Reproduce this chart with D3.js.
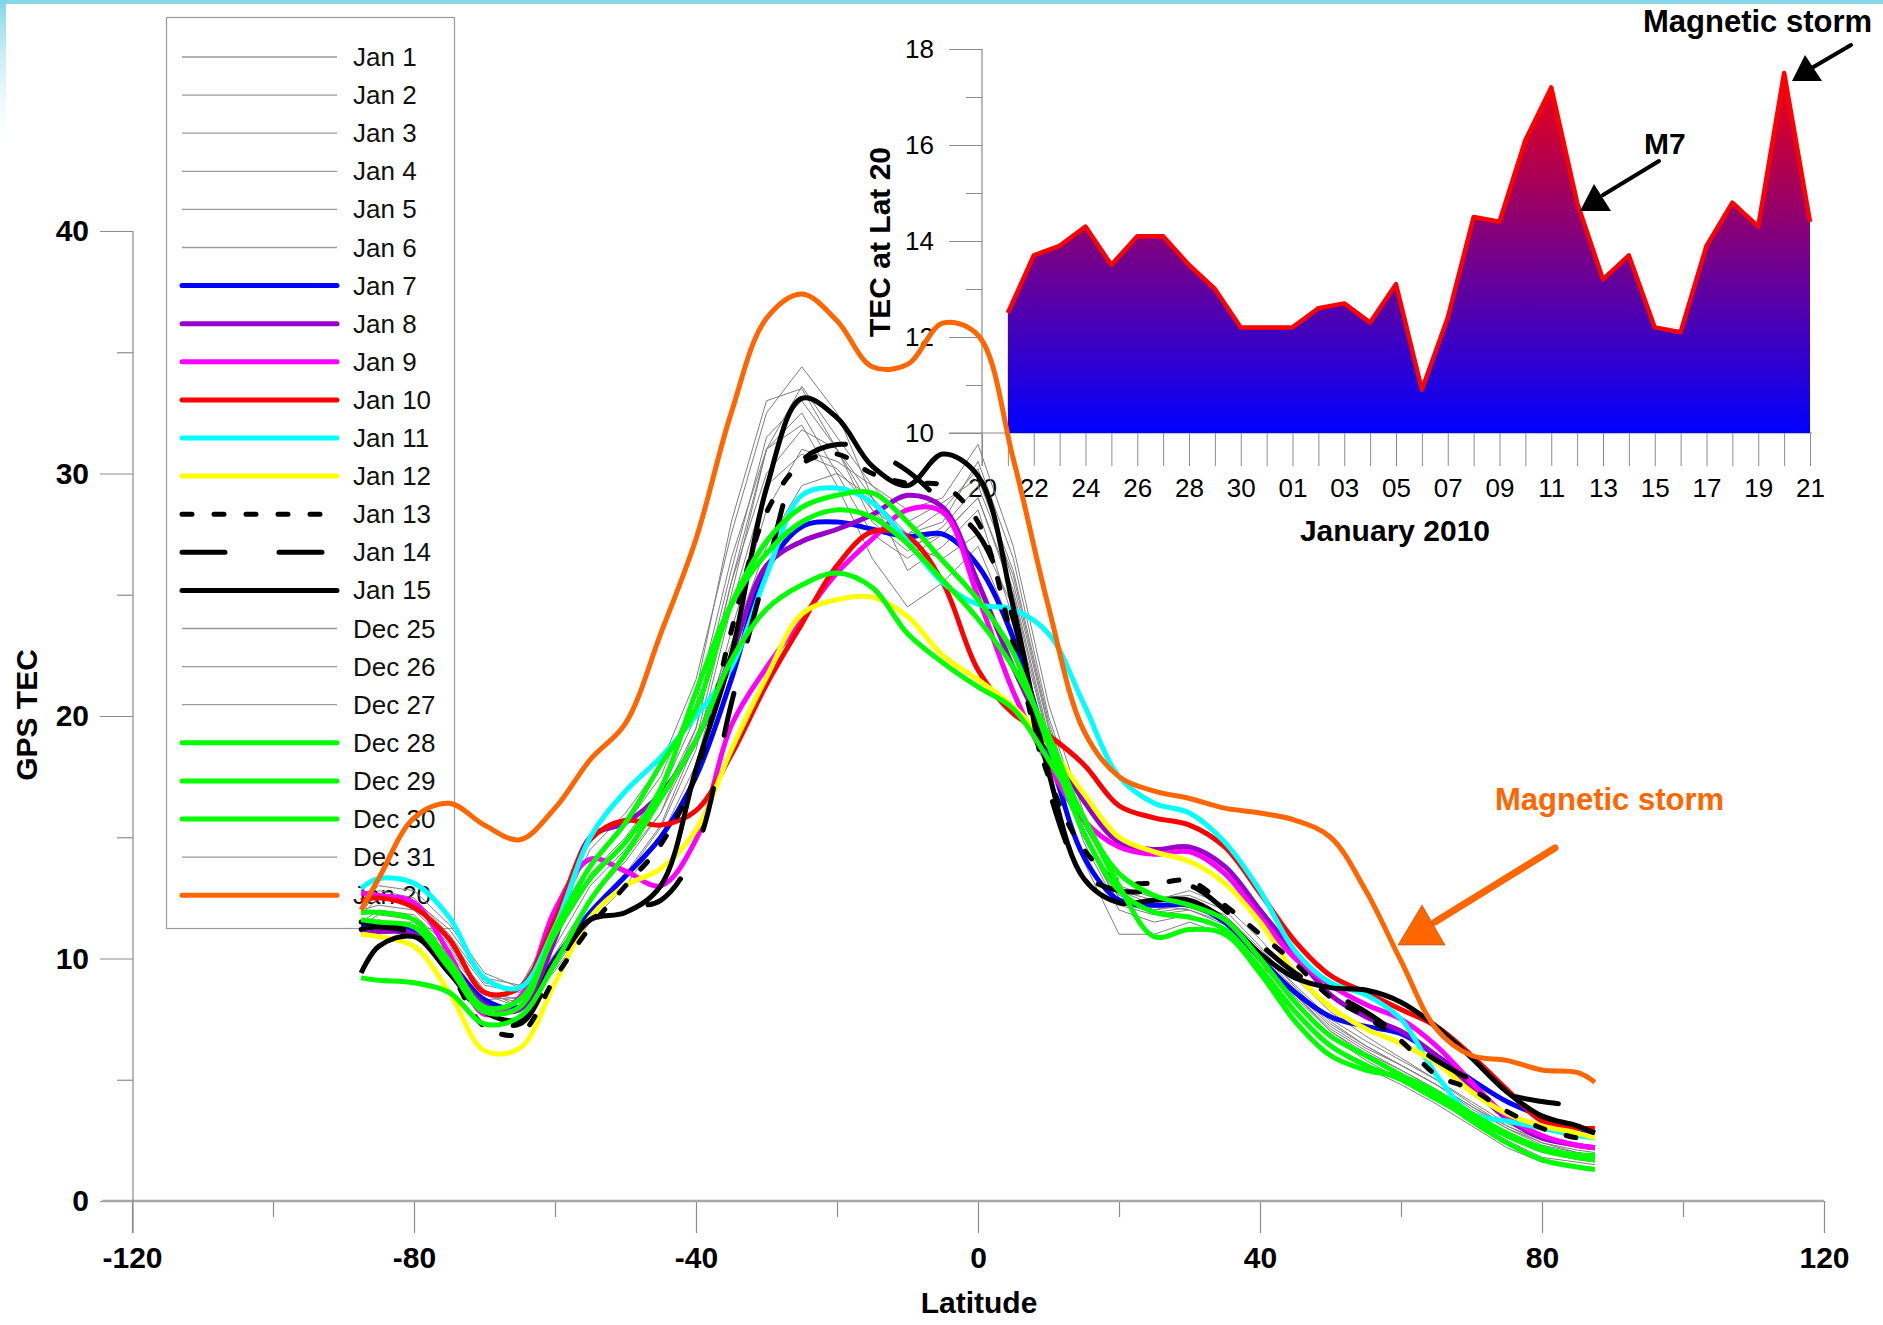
<!DOCTYPE html>
<html>
<head>
<meta charset="utf-8">
<script src="https://cdn.jsdelivr.net/npm/d3@7"></script>
<style>
  body { margin: 0; background: #fff; }
  svg { display: block; font-family: "Liberation Sans", Arial, sans-serif; }
</style>
</head>
<body>
<svg id="chart" width="1883" height="1325"></svg>
<script>
// latitudes the TEC profiles are sampled at
const latitudes = [-87.5, -85, -80, -75, -70, -65, -60, -55, -50, -45, -40, -35, -30, -25, -20, -15, -10, -5,
  0, 5, 10, 15, 20, 25, 30, 35, 40, 45, 50, 55, 60, 65, 70, 75, 80, 85, 87.5];

// GPS TEC profiles, one per day
const jan01 = [12.4,13.0,12.8,11.4,9.4,8.8,11.5,14.5,16.0,18.0,21.5,27.5,32.5,34.4,32.5,29.0,26.0,27.0,28.5,24.0,18.5,15.0,12.5,12.0,12.2,11.5,10.0,8.5,7.0,6.0,5.2,4.3,3.4,2.6,2.0,1.7,1.6];
const jan02 = [11.8,12.5,12.2,10.8,8.9,8.6,10.8,13.8,15.5,17.5,21.0,28.0,33.0,33.5,31.0,28.5,27.5,28.5,30.2,25.5,19.5,15.5,13.0,12.5,12.6,12.0,10.5,8.8,7.4,6.4,5.6,4.8,3.8,3.0,2.4,2.1,2.0];
const jan03 = [11.2,11.5,11.5,10.2,8.5,8.2,10.5,13.0,14.5,16.5,19.5,25.5,31.0,33.6,31.5,29.5,28.5,29.0,31.2,27.0,20.5,16.0,12.8,12.2,12.0,11.5,10.2,8.6,7.2,6.3,5.6,4.8,3.9,3.1,2.5,2.2,2.1];
const jan04 = [11.5,12.0,11.8,10.5,8.7,8.0,9.8,12.0,13.5,15.5,19.0,25.0,31.0,32.5,30.0,27.5,26.5,27.5,29.0,25.0,19.0,14.8,12.0,11.5,11.8,11.2,9.8,8.2,6.8,5.8,5.0,4.2,3.3,2.5,1.8,1.6,1.5];
const jan05 = [11.0,11.2,11.0,9.8,8.0,7.8,9.5,11.5,13.0,15.0,18.0,23.5,28.5,31.0,30.5,29.5,28.0,28.8,29.8,26.0,19.8,15.2,12.5,12.0,12.4,11.8,10.4,8.9,7.5,6.6,5.8,5.0,4.1,3.2,2.6,2.3,2.2];
const jan06 = [11.3,11.6,11.2,9.9,8.3,8.4,10.2,12.5,14.2,16.0,19.0,23.0,27.0,29.5,30.0,29.0,27.0,26.5,27.5,24.5,19.0,15.0,12.2,11.8,12.0,11.4,10.0,8.4,7.0,6.1,5.4,4.6,3.6,2.8,2.2,1.9,1.8];
const jan07 = [11.4,11.4,11.2,9.9,8.3,8.0,10.0,11.9,13.4,15.0,17.5,21.5,26.0,27.8,28.0,27.7,27.4,27.5,26.2,23.2,18.6,14.2,12.4,12.2,12.2,11.5,10.0,8.6,7.6,7.2,6.9,6.0,5.0,4.1,3.5,3.0,2.8];
const jan08 = [11.0,11.1,11.0,9.8,8.1,7.9,10.8,15.0,15.6,16.8,19.0,22.5,26.2,27.2,27.7,28.3,29.1,28.6,25.5,22.0,19.0,16.5,14.8,14.5,14.6,13.8,12.0,10.2,8.5,7.6,7.0,6.0,4.7,3.4,2.6,2.3,2.2];
const jan09 = [12.7,12.6,12.3,10.2,7.7,8.4,12.0,14.1,13.6,13.0,14.9,19.6,22.0,24.0,25.9,27.3,28.5,28.4,24.9,21.0,18.0,15.7,14.6,14.3,14.4,13.5,11.7,10.0,8.9,8.1,7.5,6.4,4.9,3.5,2.7,2.3,2.2];
const jan10 = [12.4,12.5,12.1,10.8,8.6,8.8,11.6,14.9,15.7,15.5,16.1,18.4,21.3,23.8,26.2,27.6,27.4,25.5,21.9,20.1,19.2,18.0,16.3,15.8,15.5,14.6,12.7,10.7,9.3,8.6,7.9,7.2,6.0,4.6,3.3,3.0,3.0];
const jan11 = [12.9,13.3,13.1,11.7,9.2,8.8,11.3,15.0,16.9,18.3,20.0,22.0,25.8,29.1,29.4,28.8,27.2,25.5,24.6,24.4,23.4,20.5,17.5,16.4,16.0,14.8,12.8,10.3,9.0,8.5,7.5,5.2,3.6,3.3,3.0,2.7,2.6];
const jan12 = [11.0,10.9,10.5,8.6,6.2,6.3,9.0,11.7,13.0,13.7,15.3,18.6,21.6,24.2,24.8,24.9,24.1,22.5,21.5,20.4,18.8,16.8,15.0,14.4,14.0,13.1,11.5,9.4,8.0,7.1,6.5,5.7,4.5,3.6,3.1,2.8,2.6];
const jan13 = [11.5,11.4,11.1,9.5,7.2,6.9,9.2,11.3,13.0,14.7,17.6,23.5,28.4,30.4,30.8,30.0,29.6,29.5,28.0,23.0,17.5,14.5,13.2,13.1,13.2,12.2,11.0,9.8,8.4,7.6,6.6,5.2,4.6,3.7,3.0,2.6,2.5];
const jan14 = [11.2,11.3,11.0,9.6,7.6,7.3,9.6,11.6,12.1,12.4,14.5,20.5,26.0,30.5,31.2,30.9,30.1,28.8,27.5,24.0,17.0,13.5,12.8,12.8,13.0,12.0,10.6,9.4,8.6,7.8,6.8,5.8,5.0,4.4,4.1,3.9,3.7];
const jan15 = [9.4,10.5,10.9,9.4,7.8,7.5,9.9,11.6,11.9,13.0,17.8,22.5,29.4,33.1,32.3,30.3,29.5,30.8,29.9,24.5,17.7,13.3,12.3,12.4,12.4,11.6,10.2,9.2,8.8,8.7,8.2,7.2,5.9,4.5,3.5,3.1,2.8];
const dec25 = [11.9,12.8,12.5,11.0,9.0,8.7,10.8,13.5,15.0,17.0,20.5,26.5,31.0,32.0,29.5,26.5,24.5,25.5,27.0,23.5,18.0,14.0,11.0,11.0,11.5,11.0,9.5,7.8,6.4,5.5,4.8,4.0,3.1,2.2,1.6,1.4,1.3];
const dec26 = [12.0,12.2,12.0,10.6,8.6,8.3,10.0,12.5,14.0,16.0,19.5,25.5,30.0,31.8,31.0,29.0,27.5,28.0,30.5,26.5,20.0,15.6,12.8,12.4,12.8,12.2,10.8,9.2,7.8,6.8,5.9,5.0,4.0,3.1,2.4,2.0,1.9];
const dec27 = [11.4,11.8,11.6,10.4,8.5,8.0,9.6,11.8,13.4,15.4,18.6,24.5,29.5,30.8,30.2,28.5,27.0,27.5,29.0,25.2,19.2,15.0,12.3,11.9,12.1,11.6,10.1,8.5,7.1,6.2,5.4,4.6,3.7,2.8,2.1,1.8,1.7];
const dec28 = [9.2,9.1,9.0,8.6,7.3,7.6,9.8,12.4,14.3,16.6,19.0,22.3,24.4,25.4,25.9,25.3,23.4,22.2,21.2,20.3,18.2,15.8,13.0,10.9,11.2,11.0,9.4,7.4,6.0,5.4,5.1,4.3,3.3,2.4,1.7,1.4,1.3];
const dec29 = [11.9,11.9,11.6,9.9,8.0,8.3,11.0,13.3,14.8,17.0,21.0,24.6,26.7,28.0,28.5,28.2,27.1,25.6,24.0,22.0,19.2,15.8,13.5,12.6,12.2,11.6,10.0,8.2,6.8,6.0,5.2,4.5,3.6,2.8,2.2,1.9,1.9];
const dec30 = [11.6,11.5,11.3,9.6,7.8,8.0,11.2,13.8,15.6,18.0,20.3,24.6,27.2,28.6,29.1,29.2,28.0,26.4,24.8,22.6,18.8,15.2,12.8,11.9,11.7,11.2,9.6,7.8,6.4,5.6,5.0,4.2,3.4,2.7,2.1,1.8,1.7];
const dec31 = [12.2,12.6,12.4,11.2,9.2,8.9,10.9,13.2,14.8,16.8,20.0,26.0,31.5,33.0,31.0,28.0,26.8,27.8,29.5,25.8,19.6,15.3,12.6,12.1,12.3,11.7,10.3,8.7,7.3,6.4,5.6,4.8,3.9,3.0,2.3,2.0,1.9];
const jan20 = [12.0,13.3,15.8,16.4,15.5,14.9,16.2,18.2,19.7,23.4,27.3,32.5,36.4,37.4,36.3,34.4,34.5,36.2,35.7,30.6,24.5,19.4,17.5,16.9,16.6,16.2,16.0,15.7,15.0,12.8,9.9,7.1,6.0,5.8,5.4,5.3,4.9];

// inset: TEC at latitude 20 per day
const tecDates = ["2009-12-21","2009-12-22","2009-12-23","2009-12-24","2009-12-25","2009-12-26","2009-12-27","2009-12-28",
  "2009-12-29","2009-12-30","2009-12-31","2010-01-01","2010-01-02","2010-01-03","2010-01-04","2010-01-05","2010-01-06",
  "2010-01-07","2010-01-08","2010-01-09","2010-01-10","2010-01-11","2010-01-12","2010-01-13","2010-01-14","2010-01-15",
  "2010-01-16","2010-01-17","2010-01-18","2010-01-19","2010-01-20","2010-01-21"];
const tecValues = [12.5,13.7,13.9,14.3,13.5,14.1,14.1,13.5,13.0,12.2,12.2,12.2,12.6,12.7,12.3,13.1,10.9,
  12.4,14.5,14.4,16.1,17.2,14.8,13.2,13.7,12.2,12.1,13.9,14.8,14.3,17.5,14.4];

const xTicksMain = [-120, -80, -40, 0, 40, 80, 120];
const yTicksMain = [0, 10, 20, 30, 40];
const yTicksInset = [10, 12, 14, 16, 18];

const gray = "#7f7f7f";
const series = [
  { name: "Jan 1", values: jan01, color: gray, width: 1 },
  { name: "Jan 2", values: jan02, color: gray, width: 1 },
  { name: "Jan 3", values: jan03, color: gray, width: 1 },
  { name: "Jan 4", values: jan04, color: gray, width: 1 },
  { name: "Jan 5", values: jan05, color: gray, width: 1 },
  { name: "Jan 6", values: jan06, color: gray, width: 1 },
  { name: "Jan 7", values: jan07, color: "#0000ff", width: 5 },
  { name: "Jan 8", values: jan08, color: "#9900cc", width: 5 },
  { name: "Jan 9", values: jan09, color: "#ff00ff", width: 5 },
  { name: "Jan 10", values: jan10, color: "#ff0000", width: 5 },
  { name: "Jan 11", values: jan11, color: "#00ffff", width: 5 },
  { name: "Jan 12", values: jan12, color: "#ffff00", width: 5 },
  { name: "Jan 13", values: jan13, color: "#000000", width: 5, dash: "10,22" },
  { name: "Jan 14", values: jan14, color: "#000000", width: 5, dash: "43,54" },
  { name: "Jan 15", values: jan15, color: "#000000", width: 5 },
  { name: "Dec 25", values: dec25, color: gray, width: 1 },
  { name: "Dec 26", values: dec26, color: gray, width: 1 },
  { name: "Dec 27", values: dec27, color: gray, width: 1 },
  { name: "Dec 28", values: dec28, color: "#00ff00", width: 5 },
  { name: "Dec 29", values: dec29, color: "#00ff00", width: 5 },
  { name: "Dec 30", values: dec30, color: "#00ff00", width: 5 },
  { name: "Dec 31", values: dec31, color: gray, width: 1 },
  { name: "Jan 20", values: jan20, color: "#ff6600", width: 5 }
];

const svg = d3.select("#chart");
const axisColor = "#8c8c8c";
const defs = svg.append("defs");

// slide decoration
const deco = defs.append("linearGradient").attr("id", "decoGrad")
  .attr("x1", 0).attr("y1", 0).attr("x2", 0).attr("y2", 1);
deco.append("stop").attr("offset", 0).attr("stop-color", "#7fd6e8");
deco.append("stop").attr("offset", 1).attr("stop-color", "#ffffff").attr("stop-opacity", 0);
svg.append("rect").attr("x", 0).attr("y", 0).attr("width", 1883).attr("height", 4).attr("fill", "#86d8e8");
svg.append("rect").attr("x", 0).attr("y", 0).attr("width", 6).attr("height", 160).attr("fill", "url(#decoGrad)");

// ---------- main chart scales
const x = d3.scaleLinear().domain([-120, 120]).range([132, 1824]);
const y = d3.scaleLinear().domain([0, 40]).range([1201, 231]);

// legend (drawn first, the profiles go over it)
const legend = svg.append("g");
legend.append("rect")
  .attr("x", 166.5).attr("y", 17.5).attr("width", 288).attr("height", 911)
  .attr("fill", "#fff").attr("stroke", "#9a9a9a").attr("stroke-width", 1.2);
const rowH = 38.1;
series.forEach(function (s, i) {
  const yy = 57 + i * rowH;
  const thick = s.width > 2;
  legend.append("line")
    .attr("x1", 182).attr("x2", 337)
    .attr("y1", yy).attr("y2", yy)
    .attr("stroke", thick ? s.color : "#9a9a9a")
    .attr("stroke-width", thick ? 5 : 1.3)
    .attr("stroke-linecap", thick ? "round" : "butt")
    .attr("stroke-dasharray", s.dash || null);
  legend.append("text")
    .attr("x", 353).attr("y", yy + 9)
    .attr("font-size", 26).attr("fill", "#111")
    .text(s.name);
});

// main axes
const plainNum = function (d) { return String(d); };
const gx = svg.append("g").attr("transform", "translate(0,1201)");
gx.call(d3.axisBottom(x).tickValues(xTicksMain).tickSize(32).tickFormat(plainNum));
const gxMinor = svg.append("g").attr("transform", "translate(0,1201)");
gxMinor.call(d3.axisBottom(x).tickValues([-100, -60, -20, 20, 60, 100]).tickSize(16).tickFormat(""));
const gy = svg.append("g").attr("transform", "translate(133,0)");
gy.call(d3.axisLeft(y).tickValues(yTicksMain).tickSize(33).tickFormat(plainNum));
const gyMinor = svg.append("g").attr("transform", "translate(133,0)");
gyMinor.call(d3.axisLeft(y).tickValues([5, 15, 25, 35]).tickSize(16).tickFormat(""));

[gx, gxMinor, gy, gyMinor].forEach(function (g) {
  g.select(".domain").remove();
  g.selectAll(".tick line").attr("stroke", axisColor).attr("stroke-width", 1.2);
});
gx.selectAll(".tick text").attr("font-size", 30).attr("font-weight", "bold")
  .attr("fill", "#000").attr("font-family", "Liberation Sans, Arial").attr("y", 46);
gy.selectAll(".tick text").attr("font-size", 30).attr("font-weight", "bold")
  .attr("fill", "#000").attr("font-family", "Liberation Sans, Arial").attr("x", -44);

svg.append("line").attr("x1", 102).attr("x2", 1824).attr("y1", 1201).attr("y2", 1201)
  .attr("stroke", "#a8a8a8").attr("stroke-width", 2.5);
svg.append("line").attr("x1", 133).attr("x2", 133).attr("y1", 231).attr("y2", 1233)
  .attr("stroke", axisColor).attr("stroke-width", 1.2);

svg.append("text").attr("x", 979).attr("y", 1313).attr("text-anchor", "middle")
  .attr("font-size", 30).attr("font-weight", "bold").text("Latitude");
svg.append("text").attr("transform", "translate(37,715) rotate(-90)").attr("text-anchor", "middle")
  .attr("font-size", 30).attr("font-weight", "bold").text("GPS TEC");

// ---------- inset
const xIn = d3.scaleTime().domain([new Date(2009, 11, 20), new Date(2010, 0, 21)]).range([982, 1810]);
const yIn = d3.scaleLinear().domain([10, 18]).range([433, 49]);
const parseDay = d3.timeParse("%Y-%m-%d");
const tecData = tecDates.map(function (d, i) { return { date: parseDay(d), value: tecValues[i] }; });

const grad = defs.append("linearGradient").attr("id", "tecGrad")
  .attr("gradientUnits", "userSpaceOnUse")
  .attr("x1", 0).attr("y1", yIn(18)).attr("x2", 0).attr("y2", yIn(10));
grad.append("stop").attr("offset", 0).attr("stop-color", "#ff0000");
grad.append("stop").attr("offset", 1).attr("stop-color", "#0000ff");

const inset = svg.append("g");
const days = d3.timeDay.range(new Date(2009, 11, 20), new Date(2010, 0, 22));
const gxIn = inset.append("g").attr("transform", "translate(0,433)");
gxIn.call(d3.axisBottom(xIn).tickValues(days).tickSize(33)
  .tickFormat(function (d, i) { return i % 2 === 0 ? d3.timeFormat("%d")(d) : ""; }));
const gyIn = inset.append("g").attr("transform", "translate(982,0)");
gyIn.call(d3.axisLeft(yIn).tickValues(yTicksInset).tickSize(33).tickFormat(plainNum));
const gyInMinor = inset.append("g").attr("transform", "translate(982,0)");
gyInMinor.call(d3.axisLeft(yIn).tickValues([11, 13, 15, 17]).tickSize(16).tickFormat(""));
[gxIn, gyIn, gyInMinor].forEach(function (g) {
  g.select(".domain").remove();
  g.selectAll(".tick line").attr("stroke", axisColor).attr("stroke-width", 1);
  g.selectAll(".tick text").attr("font-size", 26).attr("fill", "#000")
    .attr("font-family", "Liberation Sans, Arial");
});
gxIn.selectAll(".tick text").attr("y", 46);
gyIn.selectAll(".tick text").attr("x", -48);
inset.append("line").attr("x1", 949).attr("x2", 1812).attr("y1", 433).attr("y2", 433)
  .attr("stroke", axisColor).attr("stroke-width", 1.2);
inset.append("line").attr("x1", 982).attr("x2", 982).attr("y1", 49).attr("y2", 466)
  .attr("stroke", axisColor).attr("stroke-width", 1.2);

inset.append("path").datum(tecData)
  .attr("fill", "url(#tecGrad)")
  .attr("d", d3.area().x(function (d) { return xIn(d.date); }).y0(yIn(10)).y1(function (d) { return yIn(d.value); }));
inset.append("path").datum(tecData)
  .attr("fill", "none").attr("stroke", "#ff0000").attr("stroke-width", 4.5).attr("stroke-linejoin", "round")
  .attr("d", d3.line().x(function (d) { return xIn(d.date); }).y(function (d) { return yIn(d.value); }));

inset.append("text").attr("transform", "translate(890,242) rotate(-90)").attr("text-anchor", "middle")
  .attr("font-size", 30).attr("font-weight", "bold").text("TEC at Lat 20");
inset.append("text").attr("x", 1395).attr("y", 541).attr("text-anchor", "middle")
  .attr("font-size", 30).attr("font-weight", "bold").text("January 2010");

// ---------- profiles
const marks = svg.append("g");
const lineSmooth = d3.line()
  .x(function (d) { return x(d[0]); })
  .y(function (d) { return y(d[1]); })
  .curve(d3.curveCatmullRom.alpha(0.5));
const lineRough = d3.line()
  .x(function (d) { return x(d[0]); })
  .y(function (d) { return y(d[1]); });

const drawOrder = series.filter(function (s) { return s.width < 2; })
  .concat(series.filter(function (s) { return s.width >= 2 && s.name !== "Jan 20"; }))
  .concat(series.filter(function (s) { return s.name === "Jan 20"; }));

marks.selectAll("path").data(drawOrder).enter().append("path")
  .attr("fill", "none")
  .attr("stroke", function (d) { return d.color; })
  .attr("stroke-width", function (d) { return d.width; })
  .attr("stroke-linecap", function (d) { return d.dash ? "round" : "butt"; })
  .attr("stroke-linejoin", "round")
  .attr("stroke-dasharray", function (d) { return d.dash || null; })
  .attr("d", function (d) {
    const pts = latitudes.map(function (lat, i) { return [lat, d.values[i]]; });
    return d.width < 2 ? lineRough(pts) : lineSmooth(pts);
  });

// ---------- annotations
const notes = svg.append("g");
notes.append("text").attr("x", 1643).attr("y", 32).attr("font-size", 31).attr("font-weight", "bold")
  .text("Magnetic storm");
notes.append("line").attr("x1", 1851).attr("y1", 45).attr("x2", 1810).attr("y2", 69)
  .attr("stroke", "#000").attr("stroke-width", 4).attr("stroke-linecap", "round");
notes.append("polygon").attr("points", "1792,81 1822,81 1805,55").attr("fill", "#000");

notes.append("text").attr("x", 1644).attr("y", 154).attr("font-size", 30).attr("font-weight", "bold")
  .text("M7");
notes.append("line").attr("x1", 1659).attr("y1", 161).attr("x2", 1603).attr("y2", 195)
  .attr("stroke", "#000").attr("stroke-width", 4).attr("stroke-linecap", "round");
notes.append("polygon").attr("points", "1580,211 1611,211 1594,184").attr("fill", "#000");

notes.append("text").attr("x", 1495).attr("y", 810).attr("font-size", 31).attr("font-weight", "bold")
  .attr("fill", "#ff6600").text("Magnetic storm");
notes.append("line").attr("x1", 1555).attr("y1", 848).attr("x2", 1435).attr("y2", 922)
  .attr("stroke", "#ff6600").attr("stroke-width", 7).attr("stroke-linecap", "round");
notes.append("polygon").attr("points", "1398,945 1445,945 1422,905").attr("fill", "#ff6600")
  .attr("stroke", "#b04a10").attr("stroke-width", 0.6);
</script>
</body>
</html>
